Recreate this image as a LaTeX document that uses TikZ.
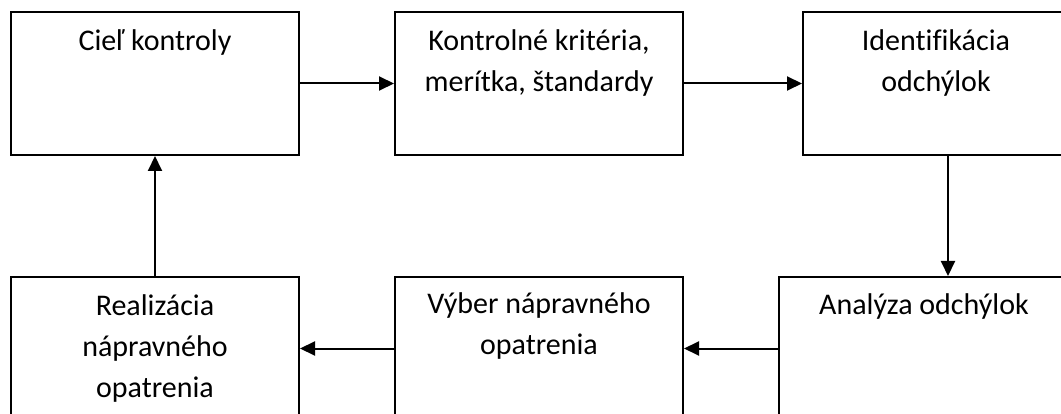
\documentclass[tikz,border=0pt]{standalone}
\usepackage{fontspec}
\setmainfont{Carlito}[Ligatures=NoCommon]
\usetikzlibrary{arrows.meta}
\begin{document}
\begin{tikzpicture}[x=1pt,y=-1pt,
  box/.style={draw=black,line width=2pt,fill=white,rectangle,inner sep=0pt},
  lbl/.style={anchor=base,align=center,inner sep=0pt,font=\fontsize{30}{41}\selectfont},
  arr/.style={line width=2pt,-{Triangle[length=15pt,width=14pt]}}]
\useasboundingbox (0,0) rectangle (1061,414);
\fill[white] (0,0) rectangle (1061,414);
\clip (0,0) rectangle (1061,414);
\node[box,minimum width=288pt,minimum height=143pt] (b1) at (155,83.5) {};
\node[box,minimum width=288pt,minimum height=143pt] (b2) at (539,83.5) {};
\node[box,minimum width=266pt,minimum height=143pt] (b3) at (936,83.5) {};
\node[box,minimum width=288pt,minimum height=143pt] (b4) at (155,348.5) {};
\node[box,minimum width=288pt,minimum height=143pt] (b5) at (539,348.5) {};
\node[box,minimum width=290pt,minimum height=143pt] (b6) at (924,348.5) {};
% base anchor = baseline of the last line
\node[lbl] (t1) at (155,51) {Cieľ kontroly};
\node[lbl] (t2) at (539,92) {Kontrolné kritéria,\\merítka, štandardy};
\node[lbl] (t3) at (936,92) {Identifikácia\\odchýlok};
\node[lbl] (t4) at (155,397) {Realizácia\\nápravného\\opatrenia};
\node[lbl] (t5) at (539,355) {Výber nápravného\\opatrenia};
\node[lbl] (t6) at (924,315) {Analýza odchýlok};
\draw[arr] (b1.east) -- (b2.west);
\draw[arr] (b2.east) -- (b3.west);
\draw[arr] ([xshift=12pt]b3.south) -- ([xshift=24pt]b6.north);
\draw[arr] (b6.west) -- (b5.east);
\draw[arr] (b5.west) -- (b4.east);
\draw[arr] (b4.north) -- (b1.south);
\end{tikzpicture}
\end{document}
